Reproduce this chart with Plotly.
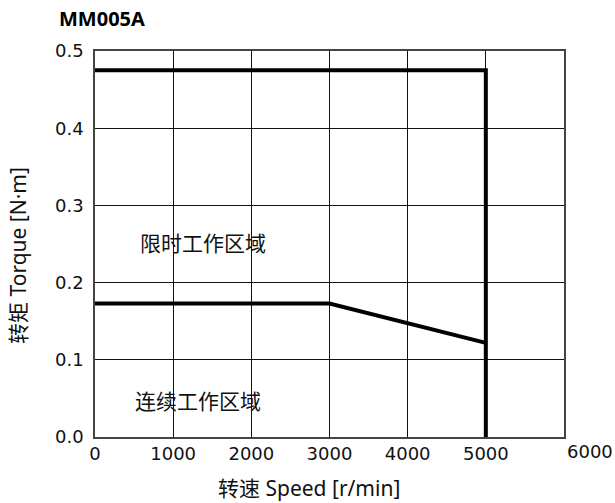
import plotly.graph_objects as go

# Data
speed_peak = [0, 5000, 5000]
torque_peak = [0.475, 0.475, 0.0]
speed_cont = [0, 3000, 5000]
torque_cont = [0.173, 0.173, 0.122]

x_ticks = [0, 1000, 2000, 3000, 4000, 5000]
x_ticktext = ["0", "1000", "2000", "3000", "4000", "5000"]
x_last_tick = "6000"
y_ticks = [0.0, 0.1, 0.2, 0.3, 0.4, 0.5]
y_ticktext = ["0.0", "0.1", "0.2", "0.3", "0.4", "0.5"]

title_text = "MM005A"
x_title = "转速 Speed [r/min]"
y_title = "转矩 Torque [N·m]"
label_peak = "限时工作区域"
label_cont = "连续工作区域"

FONT = "Noto Sans, Noto Sans CJK SC, sans-serif"
NUMFONT = "DejaVu Sans, Noto Sans, sans-serif"

# plot area in window pixels
PL, PR, PT, PB = 95, 564, 50.7, 437.3
PW, PH = PR - PL, PB - PT
W, H = 615, 503


def px(x):
    return (x - PL) / PW


def py(y):
    return (PB - y) / PH


fig = go.Figure()
fig.add_trace(go.Scatter(x=speed_peak, y=torque_peak, mode="lines",
                         line=dict(color="black", width=4), showlegend=False))
fig.add_trace(go.Scatter(x=speed_cont, y=torque_cont, mode="lines",
                         line=dict(color="black", width=4), showlegend=False))

fig.update_layout(
    width=W, height=H,
    margin=dict(l=PL, r=W - PR, t=PT, b=H - PB),
    paper_bgcolor="white", plot_bgcolor="white",
    font=dict(family=FONT, size=19, color="#111"),
    showlegend=False,
)
fig.update_xaxes(
    range=[0, 6000], tickvals=x_ticks, ticktext=x_ticktext,
    showgrid=True, gridcolor="#111", gridwidth=1, zeroline=False,
    showline=True, linecolor="#444", linewidth=1.5, mirror=True,
    ticks="", ticklabelstandoff=0,
    tickfont=dict(family=NUMFONT, size=18, color="#111"),
)
fig.update_yaxes(
    range=[0, 0.5], tickvals=y_ticks, ticktext=y_ticktext,
    showgrid=True, gridcolor="#111", gridwidth=1, zeroline=False,
    showline=True, linecolor="#444", linewidth=1.5, mirror=True,
    ticks="", ticklabelstandoff=6,
    tickfont=dict(family=NUMFONT, size=18, color="#111"),
)

annots = [
    dict(text="<b>" + title_text + "</b>", xref="paper", yref="paper",
         x=px(57), y=py(18), xanchor="left", yanchor="middle",
         showarrow=False, font=dict(family=FONT, size=20, color="black")),
    dict(text=x_last_tick, xref="paper", yref="paper",
         x=px(590), y=py(452), xanchor="center", yanchor="middle",
         showarrow=False, font=dict(family=NUMFONT, size=18, color="#111")),
    dict(text=x_title, xref="paper", yref="paper",
         x=px(309), y=py(488), xanchor="center", yanchor="middle",
         showarrow=False, font=dict(family=FONT, size=21, color="#111")),
    dict(text=y_title, xref="paper", yref="paper", textangle=-90,
         x=px(18), y=py(256), xanchor="center", yanchor="middle",
         showarrow=False, font=dict(family=FONT, size=21, color="#111")),
    dict(text=label_peak, xref="paper", yref="paper",
         x=px(203), y=py(243), xanchor="center", yanchor="middle",
         showarrow=False, font=dict(family=FONT, size=21, color="#111")),
    dict(text=label_cont, xref="paper", yref="paper",
         x=px(198), y=py(401.5), xanchor="center", yanchor="middle",
         showarrow=False, font=dict(family=FONT, size=21, color="#111")),
]
fig.update_layout(annotations=annots)

fig.write_html("out.html", config={"displayModeBar": False},
               post_script="document.body.style.margin='0';")
